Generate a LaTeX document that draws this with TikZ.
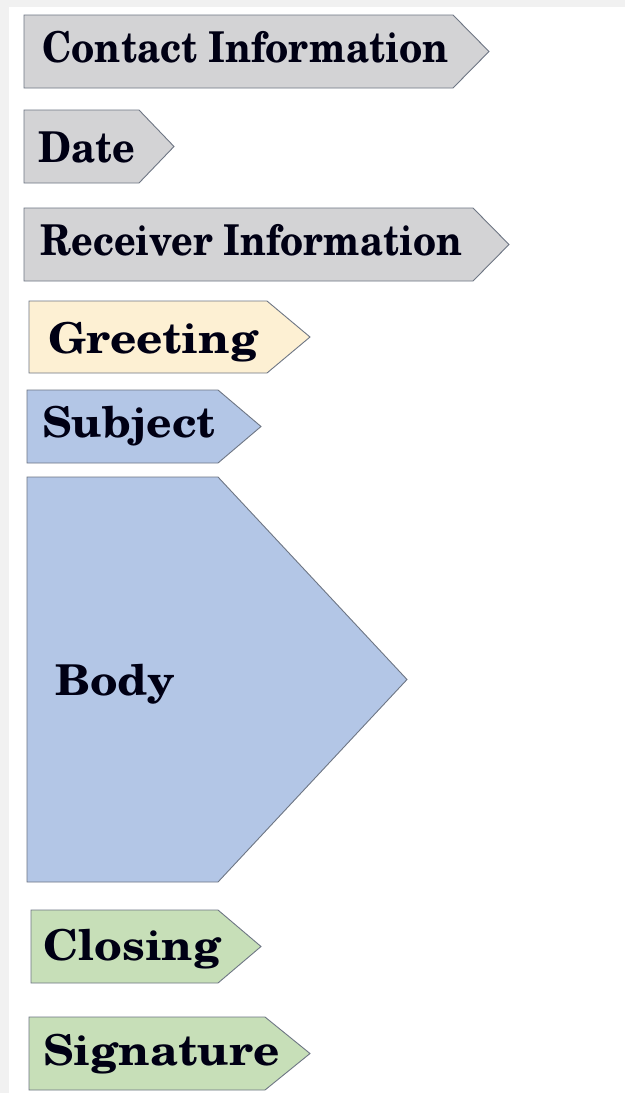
\documentclass[tikz,border=0pt]{standalone}
\usepackage{fontspec}
\usepackage{graphicx}
\setmainfont{TeX Gyre Schola}
\definecolor{pgray}{HTML}{D3D3D5}
\definecolor{pcream}{HTML}{FDF0D3}
\definecolor{pblue}{HTML}{B3C6E6}
\definecolor{pgreen}{HTML}{C7DFB8}
\definecolor{pedge}{HTML}{6E7684}
\definecolor{bgstrip}{HTML}{F1F1F1}
\tikzset{
  tagshape/.style={draw=pedge, line width=0.9pt, line join=miter},
  tagtext/.style={anchor=base west, inner sep=0pt, font=\fontsize{42.5}{48}\selectfont\bfseries, text=black!92!blue}
}
\newcommand{\tagbox}[6]{% tipx, xleft, xright, ytop, ybot, fill
  \draw[tagshape, fill=#6] (#2,#4) -- (#3,#4) -- (#1,{(#4+#5)/2}) -- (#3,#5) -- (#2,#5) -- cycle;
}
\newcommand{\sx}[2]{\scalebox{#1}[1]{#2}}
\begin{document}
\begin{tikzpicture}[x=1pt,y=-1pt]
\useasboundingbox (0,0) rectangle (625,1093);
\fill[bgstrip] (0,0) rectangle (625,7);
\fill[bgstrip] (0,0) rectangle (9,1093);
\fill[white] (9,7) rectangle (625,1093);

\tagbox{489}{24}{453}{15}{88}{pgray}
\node[tagtext] (contact) at (42,62) {\sx{0.894}{Contact Information}};

\tagbox{174}{24}{139}{110}{183}{pgray}
\node[tagtext] (date) at (38,162) {\sx{0.93}{Date}};

\tagbox{509}{24}{473}{208}{281}{pgray}
\node[tagtext] (receiver) at (40,255) {\sx{0.887}{Receiver Information}};

\tagbox{310}{29}{267}{301}{373}{pcream}
\node[tagtext] (greeting) at (48,353) {\sx{1.08}{Greeting}};

\tagbox{261}{27}{218}{390}{463}{pblue}
\node[tagtext] (subject) at (42,437) {\sx{1.045}{Subject}};

\tagbox{407}{27}{218}{477}{882}{pblue}
\node[tagtext] (body) at (55,695) {\sx{1.06}{Body}};

\tagbox{261}{31}{218}{910}{983}{pgreen}
\node[tagtext] (closing) at (43,960) {\sx{1.07}{Closing}};

\tagbox{310}{29}{265}{1017}{1090}{pgreen}
\node[tagtext] (signature) at (43,1065) {\sx{1.08}{Signature}};
\end{tikzpicture}
\end{document}
